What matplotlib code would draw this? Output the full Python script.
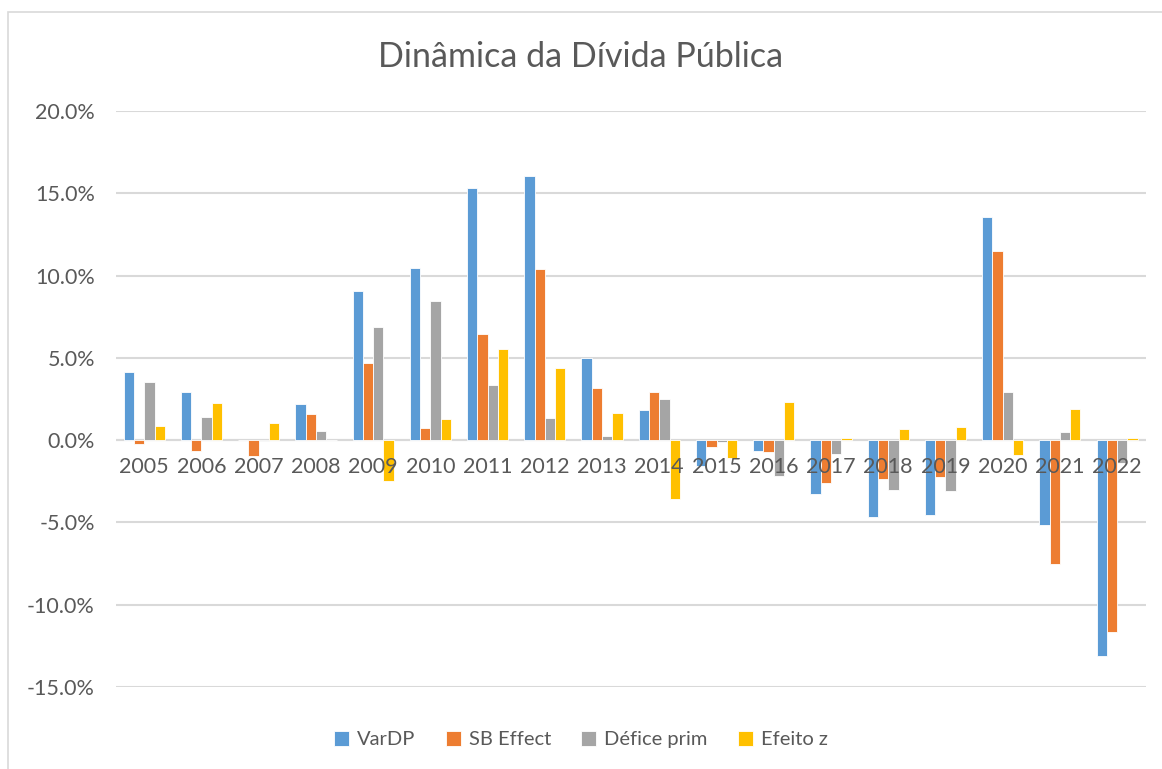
import numpy as np
import matplotlib.pyplot as plt
from matplotlib.patches import Rectangle

plt.rcParams['font.family'] = ['Lato', 'DejaVu Sans']

# Values, in %
years = ['2005', '2006', '2007', '2008', '2009', '2010', '2011', '2012', '2013',
         '2014', '2015', '2016', '2017', '2018', '2019', '2020', '2021', '2022']
var_dp = [4.11, 2.93, 0.0, 2.19, 9.07, 10.47, 15.31, 16.06, 5.02,
          1.82, -1.58, -0.63, -3.30, -4.68, -4.52, 13.55, -5.15, -13.10]
sb_effect = [-0.26, -0.67, -0.99, 1.60, 4.68, 0.73, 6.46, 10.39, 3.16,
             2.92, -0.40, -0.71, -2.59, -2.34, -2.26, 11.48, -7.52, -11.64]
defice_prim = [3.56, 1.40, -0.05, 0.57, 6.90, 8.44, 3.34, 1.32, 0.28,
               2.49, -0.12, -2.20, -0.83, -3.00, -3.06, 2.93, 0.47, -1.40]
efeito_z = [0.85, 2.23, 1.03, 0.0, -2.49, 1.28, 5.55, 4.37, 1.62,
            -3.58, -1.07, 2.29, 0.10, 0.67, 0.79, -0.89, 1.88, 0.10]

series = [('VarDP', var_dp, '#5B9BD5'),
          ('SB Effect', sb_effect, '#ED7D31'),
          ('Défice prim', defice_prim, '#A5A5A5'),
          ('Efeito z', efeito_z, '#FFC000')]

fig = plt.figure(figsize=(11.62, 7.69), dpi=100)
ax = fig.add_axes([0.0995, 0.1066, 0.8865, 0.7491])

# chart border (Excel chart area)
fig.patches.append(Rectangle((8 / 1162, -0.01), 1.0, 1 - 12 / 769 + 0.01,
                             transform=fig.transFigure, fill=False,
                             edgecolor='#D9D9D9', linewidth=1.2))

x = np.arange(len(years))
w = 0.18
for i, (name, vals, col) in enumerate(series):
    ax.bar(x + (i - 1.5) * w, vals, width=w, color=col, edgecolor='white',
           linewidth=0.6, label=name, zorder=3)

ax.set_xlim(-0.5, len(years) - 0.5)
ax.set_ylim(-15, 20)
ax.set_yticks(np.arange(-15, 21, 5))
ax.set_yticklabels([f'{v:.1f}%' for v in np.arange(-15, 21, 5)])
ax.tick_params(axis='y', length=0, labelsize=15.5, labelcolor='#595959', pad=15)
ax.set_xticks([])
ax.grid(axis='y', color='#D9D9D9', linewidth=1.5, zorder=0)
ax.axhline(0, color='#D9D9D9', linewidth=1.5, zorder=2)
for s in ax.spines.values():
    s.set_visible(False)

# category labels sit just under the zero line, as in Excel
for xi, yr in zip(x, years):
    ax.annotate(yr, xy=(xi, 0), xytext=(0, -12), textcoords='offset points',
                ha='center', va='top', fontsize=15.5, color='#595959', zorder=4)

fig.text(0.5, 0.926, 'Dinâmica da Dívida Pública', ha='center', va='center',
         fontsize=24.5, color='#595959')

fig.legend(loc='center', bbox_to_anchor=(0.5, 0.038), ncol=4, frameon=False,
           fontsize=14.5, labelcolor='#595959', handlelength=0.75,
           handleheight=0.75, handletextpad=0.4, columnspacing=1.5)

plt.savefig('out.png', dpi=100)
